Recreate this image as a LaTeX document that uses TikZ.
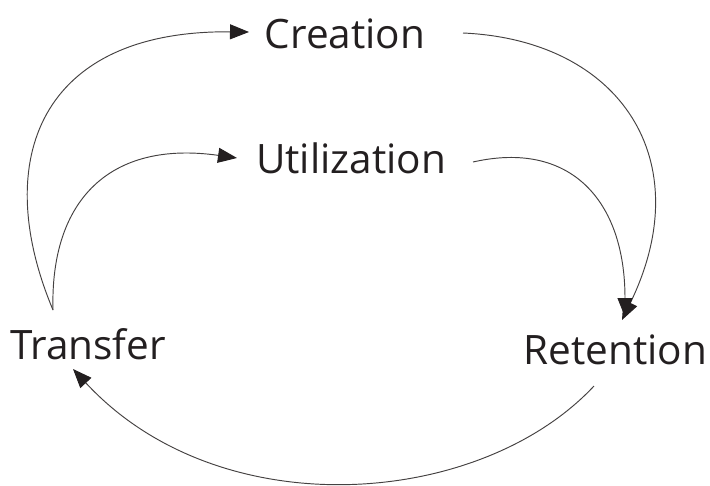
\documentclass[tikz,border=0pt]{standalone}
\usepackage{fontspec}
\setmainfont{Open Sans}
\usetikzlibrary{arrows.meta}
\definecolor{ink}{HTML}{231F20}
\begin{document}
\begin{tikzpicture}[x=1pt,y=-1pt,
  label/.style={anchor=base,inner sep=0pt,text=ink,font=\fontsize{40.5}{40.5}\selectfont},
  flow/.style={draw=ink!85,line width=0.95pt,-{Triangle[length=19pt,width=15pt,color=ink]}}]
\useasboundingbox (0,0) rectangle (710,485);

\node[label] (creation)    at (345,48)    {Creation};
\node[label] (utilization) at (351,173)   {Utilization};
\node[label] (transfer)    at (88,359)    {Transfer};
\node[label] (retention)   at (615.5,364) {Retention};

% Transfer feeds creation (outer) and utilization (inner)
\draw[flow] ([xshift=-35pt,yshift=49pt]transfer.base)
  .. controls (-10,160) and (40,30) .. ([xshift=-96pt,yshift=16pt]creation.base);
\draw[flow] ([xshift=-35pt,yshift=49pt]transfer.base)
  .. controls (50,200) and (110,140) .. ([xshift=-114pt,yshift=15pt]utilization.base);

% Creation and utilization both lead to retention
\draw[flow] ([xshift=118pt,yshift=15pt]creation.base)
  .. controls (620,40) and (700,160) .. ([xshift=6.5pt,yshift=44pt]retention.base);
\draw[flow] ([xshift=122pt,yshift=11pt]utilization.base)
  .. controls (570,140) and (625,200) .. ([xshift=9.5pt,yshift=47pt]retention.base);

% Retention returns to transfer
\draw[flow] ([xshift=-21.5pt,yshift=-22pt]retention.base)
  .. controls (480,508) and (220,528) .. ([xshift=-15pt,yshift=-10pt]transfer.base);
\end{tikzpicture}
\end{document}
